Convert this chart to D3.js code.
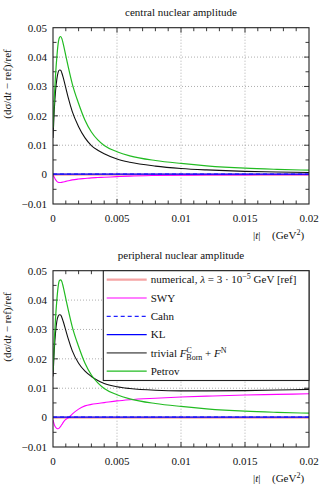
<!DOCTYPE html>
<html><head><meta charset="utf-8">
<script src="https://cdn.jsdelivr.net/npm/d3@7"></script>
<style>
body{margin:0;background:#fff;}
</style></head>
<body><svg id="c" width="321" height="486" font-family="'Liberation Serif', 'DejaVu Serif', serif"></svg>
<script>
// ---------- data ----------
const tValues = [0, 0.0001, 0.0002, 0.0003, 0.0004, 0.0005, 0.0006, 0.0007, 0.0008, 0.001, 0.0012, 0.0015, 0.002, 0.0025, 0.003, 0.0035, 0.004, 0.005, 0.006, 0.008, 0.01, 0.012, 0.015, 0.0175, 0.02];

const panelTitles = ["central nuclear amplitude", "peripheral nuclear amplitude"];
const xTicks = [0, 0.005, 0.01, 0.015, 0.02];
const xTickLabels = ["0", "0.005", "0.01", "0.015", "0.02"];
const yTicks = [-0.01, 0, 0.01, 0.02, 0.03, 0.04, 0.05];
const yTickLabels = ["\u22120.01", "0", "0.01", "0.02", "0.03", "0.04", "0.05"];

// central panel
const refCentral     = [0,0,0,0,0,0,0,0,0,0,0,0,0,0,0,0,0,0,0,0,0,0,0,0,0];
const swyCentral     = [0, -0.0009, -0.0017, -0.0023, -0.0026, -0.0027, -0.0027, -0.0026, -0.0025, -0.0023, -0.0021, -0.0018, -0.0015, -0.0013, -0.0011, -0.001, -0.0009, -0.0007, -0.0005, -0.0003, -0.0002, -0.0001, -0.0001, 0, 0];
const cahnCentral    = [0.0002,0.0002,0.0002,0.0002,0.0002,0.0002,0.0002,0.0002,0.0002,0.0002,0.0002,0.0002,0.0002,0.0002,0.0002,0.0002,0.0002,0.0002,0.0002,0.0002,0.0002,0.0002,0.0002,0.0002,0.0002];
const klCentral      = [0.0002,0.0002,0.0002,0.0002,0.0002,0.0002,0.0002,0.0002,0.0002,0.0002,0.0002,0.0002,0.0002,0.0002,0.0002,0.0002,0.0002,0.0002,0.0002,0.0002,0.0002,0.0002,0.0002,0.0002,0.0002];
const trivialCentral = [0.0125, 0.022, 0.0285, 0.0325, 0.0348, 0.0356, 0.0355, 0.0345, 0.033, 0.0295, 0.026, 0.0215, 0.0163, 0.0125, 0.0099, 0.0083, 0.0071, 0.0053, 0.0042, 0.0029, 0.0021, 0.0016, 0.0011, 0.0009, 0.0007];
const petrovCentral  = [0.016, 0.026, 0.034, 0.04, 0.0445, 0.0466, 0.047, 0.0462, 0.0445, 0.0405, 0.0365, 0.031, 0.0242, 0.0185, 0.0145, 0.0118, 0.0099, 0.0078, 0.0064, 0.0048, 0.0038, 0.003, 0.0022, 0.0018, 0.0015];

// peripheral panel
const refPeripheral     = [0,0,0,0,0,0,0,0,0,0,0,0,0,0,0,0,0,0,0,0,0,0,0,0,0];
const swyPeripheral     = [-0.0008, -0.0024, -0.0033, -0.0037, -0.0038, -0.0035, -0.003, -0.0023, -0.0016, -0.0006, -0.0001, 0.0012, 0.0029, 0.004, 0.0045, 0.0048, 0.0051, 0.0057, 0.0061, 0.0066, 0.007, 0.0073, 0.0077, 0.0079, 0.0081];
const cahnPeripheral    = [0.0002,0.0002,0.0002,0.0002,0.0002,0.0002,0.0002,0.0002,0.0002,0.0002,0.0002,0.0002,0.0002,0.0002,0.0002,0.0002,0.0002,0.0002,0.0002,0.0002,0.0002,0.0002,0.0002,0.0002,0.0002];
const klPeripheral      = [0.0002,0.0002,0.0002,0.0002,0.0002,0.0002,0.0002,0.0002,0.0002,0.0002,0.0002,0.0002,0.0002,0.0002,0.0002,0.0002,0.0002,0.0002,0.0002,0.0002,0.0002,0.0002,0.0002,0.0002,0.0002];
const trivialPeripheral = [0.014, 0.023, 0.029, 0.0328, 0.0345, 0.035, 0.0349, 0.034, 0.0327, 0.0297, 0.0267, 0.0228, 0.0185, 0.0158, 0.014, 0.0126, 0.0116, 0.0105, 0.0099, 0.0093, 0.0091, 0.0091, 0.0092, 0.0094, 0.0096];
const petrovPeripheral  = [0.016, 0.026, 0.034, 0.04, 0.0445, 0.0466, 0.0469, 0.0462, 0.0445, 0.0405, 0.0365, 0.031, 0.0242, 0.0185, 0.0145, 0.0118, 0.0099, 0.0078, 0.0064, 0.0048, 0.0038, 0.003, 0.0022, 0.0018, 0.0015];

const seriesNames = ["numerical", "SWY", "Cahn", "KL", "trivial", "Petrov"];
const panelSeries = [
  [refCentral, swyCentral, cahnCentral, klCentral, trivialCentral, petrovCentral],
  [refPeripheral, swyPeripheral, cahnPeripheral, klPeripheral, trivialPeripheral, petrovPeripheral]
];

// ---------- styles ----------
const styles = {
  numerical: {color:"#f5a3a3", width:2.2, dash:null, legendColor:"#f5a3a3"},
  SWY:       {color:"#ff00ff", width:1.1, dash:null, legendColor:"#ff00ff"},
  Cahn:      {color:"#2020ff", width:1.1, dash:"4,3", legendColor:"#2020ff"},
  KL:        {color:"#0000ff", width:1.2, dash:null, legendColor:"#0000ff"},
  trivial:   {color:"#111111", width:1.1, dash:null, legendColor:"#777777"},
  Petrov:    {color:"#22bb22", width:1.2, dash:null, legendColor:"#22bb22"}
};

const FONT = "'Liberation Serif', 'DejaVu Serif', serif";
const svg = d3.select("#c");
const L = 53, R = 309, T = 27.7, B = 204;
const panelOffsets = [0, 243];

const x = d3.scaleLinear().domain([0, 0.02]).range([L, R]);
const y = d3.scaleLinear().domain([-0.01, 0.05]).range([B, T]);

function txt(sel){ return sel.append("text").attr("font-family", FONT).attr("fill","#111"); }

panelOffsets.forEach((off, pi) => {
  const g = svg.append("g").attr("transform", `translate(0,${off})`);

  // title
  txt(g).attr("x", (L+R)/2).attr("y", 16).attr("text-anchor","middle")
    .attr("font-size", 11).text(panelTitles[pi]);

  // grid
  const gridG = g.append("g").attr("stroke","#999").attr("stroke-width",0.8).attr("stroke-dasharray","1,2");
  [0.005, 0.01, 0.015].forEach(v => gridG.append("line").attr("x1",x(v)).attr("x2",x(v)).attr("y1",T).attr("y2",B));
  [0.01, 0.02, 0.03, 0.04].forEach(v => gridG.append("line").attr("x1",L).attr("x2",R).attr("y1",y(v)).attr("y2",y(v)));

  // ticks (inward, all four sides)
  const tickG = g.append("g").attr("stroke","#222").attr("stroke-width",0.9);
  d3.range(0, 21).forEach(i => {
    const v = i*0.001; const len = (i%5===0) ? 5 : 3.5;
    if (i===0 || i===20) return;
    tickG.append("line").attr("x1",x(v)).attr("x2",x(v)).attr("y1",B).attr("y2",B-len);
    tickG.append("line").attr("x1",x(v)).attr("x2",x(v)).attr("y1",T).attr("y2",T+len);
  });
  d3.range(-2, 11).forEach(i => {
    const v = i*0.005; const len = (i%2===0) ? 5 : 3.5;
    if (i===-2 || i===10) return;
    tickG.append("line").attr("x1",L).attr("x2",L+len).attr("y1",y(v)).attr("y2",y(v));
    tickG.append("line").attr("x1",R).attr("x2",R-len).attr("y1",y(v)).attr("y2",y(v));
  });

  // curves
  const line = d3.line().x(d => x(d[0])).y(d => y(d[1])).curve(d3.curveMonotoneX);
  const clipId = "clip"+pi;
  g.append("clipPath").attr("id",clipId).append("rect").attr("x",L).attr("y",T).attr("width",R-L).attr("height",B-T);
  const cg = g.append("g").attr("clip-path",`url(#${clipId})`);
  panelSeries[pi].forEach((vals, si) => {
    const st = styles[seriesNames[si]];
    const pts = tValues.map((t,k) => [t, vals[k]]);
    cg.append("path").attr("d", line(pts)).attr("fill","none")
      .attr("stroke", st.color).attr("stroke-width", st.width)
      .attr("stroke-dasharray", st.dash);
  });

  // frame
  g.append("rect").attr("x",L).attr("y",T).attr("width",R-L).attr("height",B-T)
    .attr("fill","none").attr("stroke","#222").attr("stroke-width",1.1);

  // tick labels
  xTicks.forEach((v,i) => txt(g).attr("x",x(v)).attr("y",222).attr("text-anchor","middle")
    .attr("font-size",11).text(xTickLabels[i]));
  yTicks.forEach((v,i) => txt(g).attr("x",47).attr("y",y(v)).attr("dy","0.35em").attr("text-anchor","end")
    .attr("font-size",11).text(yTickLabels[i]));

  // y label
  const yl = txt(g).attr("transform","translate(11,84) rotate(-90)").attr("text-anchor","middle").attr("font-size",11);
  yl.append("tspan").text("(d\u03c3/d");
  yl.append("tspan").attr("font-style","italic").text("t");
  yl.append("tspan").text(" \u2212 ref)/ref");

  // x label
  const xl = txt(g).attr("x",253).attr("y",239).attr("font-size",11);
  xl.append("tspan").text("|");
  xl.append("tspan").attr("font-style","italic").text("t");
  xl.append("tspan").text("|");
  const xl2 = txt(g).attr("x",272).attr("y",239).attr("font-size",11);
  xl2.append("tspan").text("(GeV");
  xl2.append("tspan").attr("font-size",8).attr("dy",-4).text("2");
  xl2.append("tspan").attr("dy",4).text(")");

  // legend (bottom panel only)
  if (pi === 1) {
    const lx = 103.3, ly = T, lw = R - 103.3, lh = 109.8;
    g.append("rect").attr("x",lx).attr("y",ly).attr("width",lw).attr("height",lh)
      .attr("fill","#fff").attr("stroke","#222").attr("stroke-width",1.1);
    seriesNames.forEach((name, si) => {
      const st = styles[name];
      const ry = ly + 9 + si*18.3;
      g.append("line").attr("x1",106.7).attr("x2",146.7).attr("y1",ry).attr("y2",ry)
        .attr("stroke", st.legendColor).attr("stroke-width", name==="numerical"?2.2:(name==="trivial"?1.6:1.2))
        .attr("stroke-dasharray", st.dash);
      const tx = txt(g).attr("x",150.7).attr("y",ry).attr("dy","0.33em").attr("font-size",11);
      if (name === "numerical") {
        tx.append("tspan").text("numerical, ");
        tx.append("tspan").attr("font-style","italic").text("\u03bb");
        tx.append("tspan").text(" = 3 \u00b7 10");
        tx.append("tspan").attr("font-size",8).attr("dy",-4).text("\u22125");
        tx.append("tspan").attr("dy",4).text(" GeV [ref]");
      } else if (name === "trivial") {
        tx.append("tspan").text("trivial ");
        tx.append("tspan").attr("font-style","italic").text("F");
        tx.append("tspan").attr("font-size",8).attr("dy",-4).text("C");
        tx.append("tspan").attr("font-size",8).attr("dx",-5.5).attr("dy",7.5).text("Born");
        tx.append("tspan").attr("dy",-3.5).text(" + ");
        tx.append("tspan").attr("font-style","italic").text("F");
        tx.append("tspan").attr("font-size",8).attr("dy",-4).text("N");
      } else {
        tx.text(name);
      }
    });
  }
});
</script></body></html>
